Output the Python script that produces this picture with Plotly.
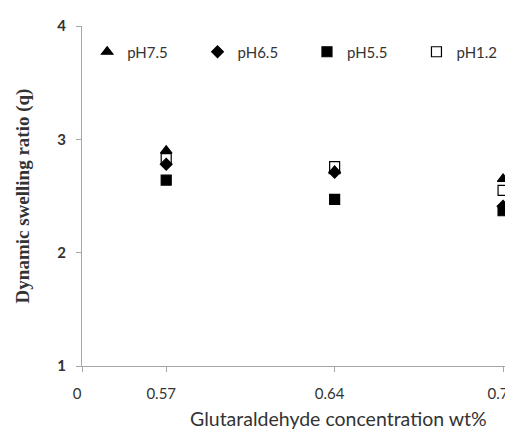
import plotly.graph_objects as go

categories = ["0.57", "0.64", "0.7"]
tick_labels = ["0", "0.57", "0.64", "0.7"]
ph75 = [2.90, 2.72, 2.65]
ph65 = [2.78, 2.71, 2.41]
ph55 = [2.64, 2.47, 2.37]
ph12 = [2.83, 2.76, 2.55]

# category positions (Excel-style: categories centred between ticks, axis at 0)
xpos = [i + 0.5 for i in range(len(categories))]
tickvals = [0] + xpos

FONT = "Lato"
TXT = "#333333"

series = [
    ("pH7.5", ph75, "triangle-up", 10, "legend", 0.012),
    ("pH6.5", ph65, "diamond", 9, "legend2", 0.268),
    ("pH5.5", ph55, "square", 10, "legend3", 0.522),
    ("pH1.2", ph12, "square-open", 10, "legend4", 0.776),
]

fig = go.Figure()
legends = {}
for name, vals, sym, size, lg, lx in series:
    fig.add_trace(go.Scatter(
        x=xpos, y=vals, mode="markers", name=name, legend=lg,
        marker=dict(symbol=sym, size=size, color="black",
                    line=dict(color="black", width=1.2)),
        cliponaxis=False,
    ))
    legends[lg] = dict(x=lx, y=0.9235, xanchor="left", yanchor="middle",
                       orientation="h", bgcolor="rgba(0,0,0,0)",
                       font=dict(family=FONT, size=15, color=TXT))

# page body has an 8px default margin, so the figure is 8px smaller than the window
fig.update_layout(
    width=505, height=435,
    margin=dict(l=74, r=0, t=18, b=77),
    paper_bgcolor="white", plot_bgcolor="white",
    showlegend=True,
    font=dict(family=FONT, color=TXT),
    **legends,
)
fig.add_annotation(
    text="Glutaraldehyde concentration wt%", xref="paper", yref="paper",
    x=0.596, y=-0.153, xanchor="center", yanchor="middle", showarrow=False,
    font=dict(family=FONT, size=19.5, color=TXT),
)
fig.update_xaxes(
    range=[0, 2.559], tickmode="array", tickvals=tickvals, ticktext=tick_labels,
    showline=True, linecolor="#a6a6a6", linewidth=1, ticks="outside", ticklen=5,
    tickcolor="#a6a6a6", showgrid=False, zeroline=False, automargin=False,
    ticklabelstandoff=9, ticklabelshift=-5,
    tickfont=dict(family=FONT, size=15, color=TXT),
)
fig.update_yaxes(
    range=[1, 4], tickvals=[1, 2, 3, 4], showline=True, linecolor="#a6a6a6",
    linewidth=1, ticks="outside", ticklen=5, tickcolor="#a6a6a6", showgrid=False,
    zeroline=False, ticklabelstandoff=7, automargin=False,
    tickfont=dict(family=FONT, size=15, color=TXT, weight="bold"),
    title=dict(text="Dynamic swelling ratio (q)", standoff=22,
               font=dict(family="Liberation Serif", size=19, color=TXT, weight="bold")),
)
fig.write_html("out.html")
